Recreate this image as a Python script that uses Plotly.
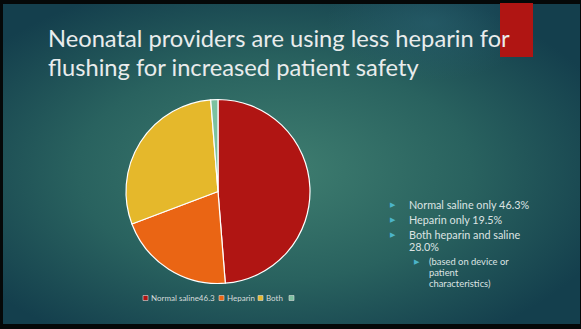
import base64
import plotly.graph_objects as go

W, H = 581, 329

# Survey results: flush solution used by neonatal providers
categories = ["Normal saline46.3", "Heparin", "Both", " "]
shares = [46.3, 19.5, 28.0, 1.2]
slice_colors = ["#B01513", "#EA6514", "#E5B82B", "#7CC1A0"]

title_lines = [
    "Neonatal providers are using less heparin for",
    "flushing for increased patient safety",
]
# (indent level, wrapped lines)
bullets = [
    (0, ["Normal saline only 46.3%"]),
    (0, ["Heparin only 19.5%"]),
    (0, ["Both heparin and saline", "28.0%"]),
    (1, ["(based on device or", "patient", "characteristics)"]),
]

FONT = "Lato"


def px(x):
    return x / W


def py(y):
    return 1 - y / H


# slide background: dark teal radial wash
svg = (
    "<svg xmlns='http://www.w3.org/2000/svg' width='577' height='320' "
    "viewBox='0 0 577 320' preserveAspectRatio='none'><defs>"
    "<radialGradient id='g' cx='0.47' cy='0.52' r='0.62' fx='0.47' fy='0.52'>"
    "<stop offset='0' stop-color='#3f7e70'/>"
    "<stop offset='0.55' stop-color='#29625f'/>"
    "<stop offset='1' stop-color='#143f4d'/></radialGradient>"
    "<radialGradient id='h' cx='0.74' cy='0.06' r='0.18'>"
    "<stop offset='0' stop-color='#2a6270' stop-opacity='0.6'/>"
    "<stop offset='1' stop-color='#2a6270' stop-opacity='0'/></radialGradient>"
    "</defs><rect width='577' height='320' fill='url(#g)'/>"
    "<rect width='577' height='320' fill='url(#h)'/></svg>"
)
bg_src = "data:image/svg+xml;base64," + base64.b64encode(svg.encode()).decode()

fig = go.Figure()

cx, cy, r = 218, 191.5, 92
fig.add_trace(
    go.Pie(
        labels=categories,
        values=shares,
        sort=False,
        direction="clockwise",
        rotation=0,
        marker=dict(colors=slice_colors, line=dict(color="#ffffff", width=1.2)),
        textinfo="none",
        hoverinfo="label+value",
        domain=dict(x=[px(cx - r), px(cx + r)], y=[py(cy + r), py(cy - r)]),
        showlegend=False,
    )
)

shapes = []
annotations = []

# red accent bar at the top right
shapes.append(dict(type="rect", xref="paper", yref="paper",
                   x0=px(500), x1=px(533), y0=py(57), y1=py(3),
                   fillcolor="#B01513", line=dict(width=0), layer="above"))

# title
title_y = [38, 67]
for line, yy in zip(title_lines, title_y):
    annotations.append(dict(text=line, x=px(46), y=py(yy), xref="paper", yref="paper",
                            xanchor="left", yanchor="middle", showarrow=False,
                            font=dict(family=FONT, size=23.7, color="#e9ecec")))

# legend under the pie
legend_x = [143, 219, 258, 289]
for name, col, lx in zip(categories, slice_colors, legend_x):
    shapes.append(dict(type="rect", xref="paper", yref="paper",
                       x0=px(lx), x1=px(lx + 5), y0=py(300.5), y1=py(295.5),
                       fillcolor=col, line=dict(color="#dddddd", width=0.6)))
    if name.strip():
        annotations.append(dict(text=name, x=px(lx + 6), y=py(298), xref="paper", yref="paper",
                                xanchor="left", yanchor="middle", showarrow=False,
                                font=dict(family=FONT, size=8, color="#d5dcdc")))

# bulleted notes on the right
bullet_y = [205, 220, 235, 262]
line_gap = [12, 12, 12, 11]
font_size = [10.8, 10.8, 10.8, 9.4]
for (lvl, lines), by, gap, fs in zip(bullets, bullet_y, line_gap, font_size):
    bx = 393 if lvl == 0 else 417
    tx = 407 if lvl == 0 else 427
    annotations.append(dict(text="\u25B6", x=px(bx), y=py(by), xref="paper", yref="paper",
                            xanchor="center", yanchor="middle", showarrow=False,
                            font=dict(family="DejaVu Sans", size=7, color="#4cb4c8")))
    for i, txt in enumerate(lines):
        annotations.append(dict(text=txt, x=px(tx), y=py(by - 0.5 + i * gap),
                                xref="paper", yref="paper", xanchor="left", yanchor="middle",
                                showarrow=False,
                                font=dict(family=FONT, size=fs, color="#dde3e3")))

fig.update_layout(
    width=W,
    height=H,
    margin=dict(l=0, r=0, t=0, b=0),
    paper_bgcolor="#050808",
    plot_bgcolor="rgba(0,0,0,0)",
    shapes=shapes,
    annotations=annotations,
    images=[dict(source=bg_src, xref="paper", yref="paper", x=px(3), y=py(4),
                 sizex=px(580) - px(3), sizey=(324 - 4) / H, sizing="stretch",
                 xanchor="left", yanchor="top", layer="below")],
)

fig.write_html("out.html")
